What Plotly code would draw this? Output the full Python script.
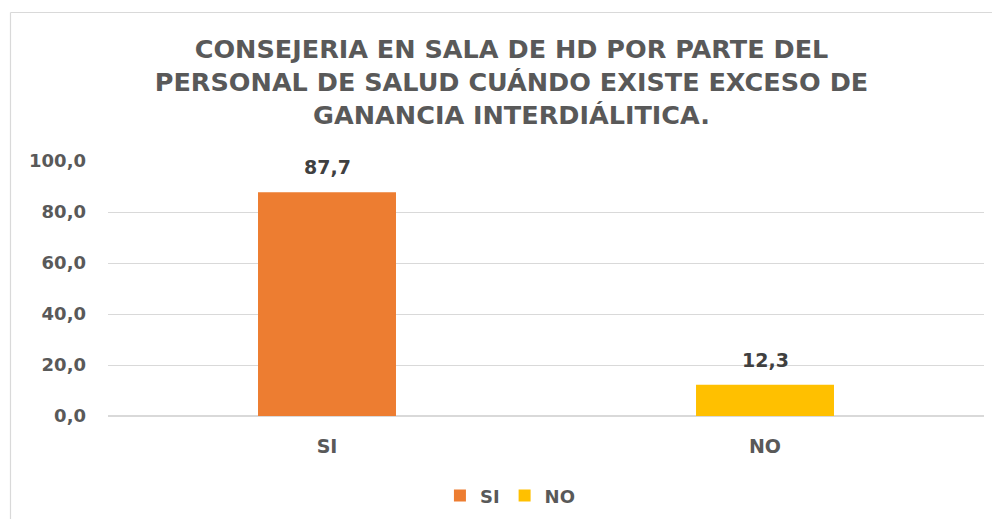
import plotly.graph_objects as go

categories = ["SI", "NO"]
values = [87.7, 12.3]
colors = ["#ED7D31", "#FFC000"]
y_ticks = [0, 20, 40, 60, 80, 100]
title_text = ("CONSEJERIA EN SALA DE HD POR PARTE DEL<br>"
              "PERSONAL DE SALUD CUÁNDO EXISTE EXCESO DE<br>"
              "GANANCIA INTERDIÁLITICA.")

FONT = "DejaVu Sans"
GRAY = "#595959"

fig = go.Figure()
for cat, val, col in zip(categories, values, colors):
    fig.add_trace(go.Bar(
        x=[cat], y=[val], name=cat, marker=dict(color=col, line=dict(width=0)),
        width=0.315, offset=-0.1575,
    ))

for cat, val in zip(categories, values):
    fig.add_annotation(
        x=cat, y=val, xref="x", yref="y",
        text=f"{val:.1f}".replace(".", ","), showarrow=False,
        yanchor="bottom", yshift=12,
        font=dict(family=FONT, size=19, color="#404040", weight="bold"),
    )

# outer chart border (only left and top edges are visible in the reference)
border = dict(color="#D9D9D9", width=1.2)
fig.add_shape(type="line", xref="paper", yref="paper",
              x0=-0.1113, x1=-0.1113, y0=-0.45, y1=1.5824, line=border, layer="below")
fig.add_shape(type="line", xref="paper", yref="paper",
              x0=-0.1113, x1=1.0091, y0=1.5824, y1=1.5824, line=border, layer="below")

fig.update_layout(
    width=984, height=511,
    margin=dict(l=100, r=8, t=153, b=103, autoexpand=False),
    paper_bgcolor="white", plot_bgcolor="white",
    separators=",.",
    barmode="overlay",
    title=dict(text=title_text, x=0.5117, xanchor="center", xref="container",
               y=0.9027, yanchor="top", yref="container",
               font=dict(family=FONT, size=25.5, color=GRAY, weight="bold")),
    xaxis=dict(tickfont=dict(family=FONT, size=19, color=GRAY, weight="bold"),
               showgrid=False, ticks="", showline=False, ticklabelstandoff=17),
    yaxis=dict(range=[0, 100], tickvals=y_ticks, tickformat=".1f",
               tickfont=dict(family=FONT, size=18, color=GRAY, weight="bold"),
               showgrid=True, gridcolor="#D9D9D9", gridwidth=1.2,
               zeroline=True, zerolinecolor="#D9D9D9", zerolinewidth=2,
               showline=False, ticks="", ticklabelstandoff=21),
    showlegend=True,
    legend=dict(orientation="h", x=0.4594, xanchor="center", y=-0.313, yanchor="middle",
                font=dict(family=FONT, size=18, color=GRAY, weight="bold"),
                itemwidth=30, bgcolor="rgba(0,0,0,0)"),
)

fig.write_html("out.html")
